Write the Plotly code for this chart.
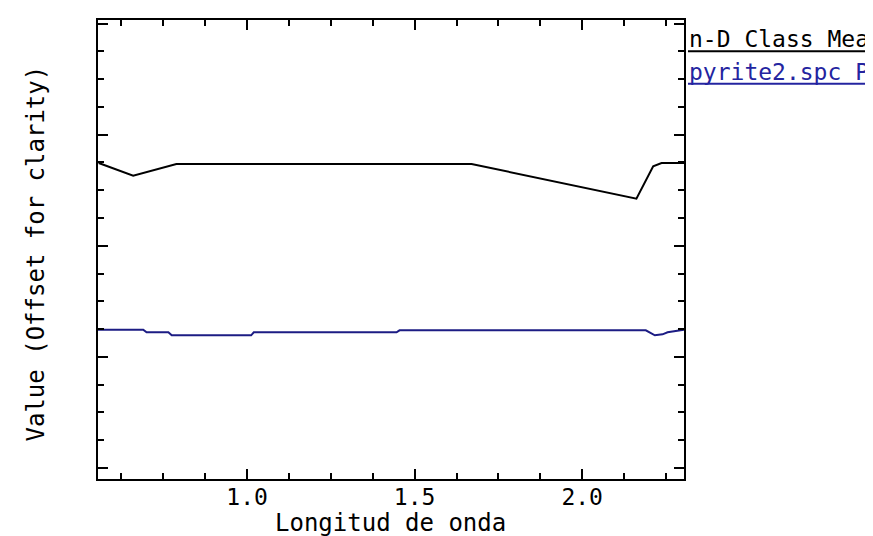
import plotly.graph_objects as go

# Data
black_x = [0.557, 0.660, 0.789, 1.670, 2.162, 2.212, 2.237, 2.304]
black_y = [2.745, 2.631, 2.736, 2.736, 2.424, 2.716, 2.745, 2.745]

blue_x = [0.555, 0.690, 0.700, 0.765, 0.775, 1.012, 1.020, 1.446, 1.455, 2.190, 2.217, 2.240, 2.255, 2.295, 2.304]
blue_y = [1.245, 1.245, 1.221, 1.221, 1.194, 1.194, 1.221, 1.221, 1.239, 1.239, 1.194, 1.203, 1.221, 1.245, 1.245]

series_names = ["n-D Class Mean", "pyrite2.spc Pyrite"]
series_colors = ["#000000", "#1c1c84"]
legend_colors = ["#000000", "#2424a0"]
x_title = "Longitud de onda"
y_title = "Value (Offset for clarity)"

FONT = "DejaVu Sans Mono"

fig = go.Figure()
for xs, ys, name, col in [(black_x, black_y, series_names[0], series_colors[0]),
                          (blue_x, blue_y, series_names[1], series_colors[1])]:
    fig.add_trace(go.Scatter(x=xs, y=ys, mode="lines",
                             line=dict(color=col, width=2),
                             name=name, showlegend=False))

axis_common = dict(
    showgrid=False, zeroline=False, showline=True, linecolor="black",
    linewidth=2, mirror="ticks", ticks="inside", tickcolor="black",
    tickwidth=2, ticklen=10,
)

fig.update_xaxes(range=[0.555, 2.304], tick0=0, dtick=0.5, tickformat=".1f",
                 tickfont=dict(family=FONT, size=23, color="black"),
                 ticklabelstandoff=-4,
                 minor=dict(ticks="inside", ticklen=6, tickwidth=2,
                            tickcolor="black", dtick=0.125, tick0=0),
                 **axis_common)
fig.update_yaxes(range=[-0.099, 4.032], tick0=0, dtick=1,
                 showticklabels=False,
                 minor=dict(ticks="inside", ticklen=6, tickwidth=2,
                            tickcolor="black", dtick=0.25, tick0=0),
                 **axis_common)

annotations = [
    dict(text=x_title, xref="paper", yref="paper", x=0.5, y=0,
         xanchor="center", yanchor="middle", xshift=-1, yshift=-44,
         showarrow=False, font=dict(family=FONT, size=24, color="black")),
    dict(text=y_title, xref="paper", yref="paper", x=0, y=0.5,
         xanchor="center", yanchor="middle", xshift=-63, yshift=-4,
         textangle=-90, showarrow=False,
         font=dict(family=FONT, size=24, color="black")),
    dict(text=series_names[0], xref="paper", yref="paper", x=1, y=1,
         xanchor="left", yanchor="middle", xshift=3, yshift=-19,
         showarrow=False, font=dict(family=FONT, size=23, color=legend_colors[0])),
    dict(text=series_names[1], xref="paper", yref="paper", x=1, y=1,
         xanchor="left", yanchor="middle", xshift=3, yshift=-52,
         showarrow=False, font=dict(family=FONT, size=23, color=legend_colors[1])),
]

shapes = [
    dict(type="line", xref="paper", yref="paper", x0=1.0068, x1=1.40,
         y0=0.9318, y1=0.9318, line=dict(color=legend_colors[0], width=2)),
    dict(type="line", xref="paper", yref="paper", x0=1.0068, x1=1.40,
         y0=0.8612, y1=0.8612, line=dict(color=legend_colors[1], width=2)),
]

fig.update_layout(
    width=873, height=536,
    margin=dict(l=90, r=197, t=12, b=65, autoexpand=False),
    paper_bgcolor="white", plot_bgcolor="white",
    annotations=annotations, shapes=shapes,
    showlegend=False,
)

fig.write_html("out.html")
